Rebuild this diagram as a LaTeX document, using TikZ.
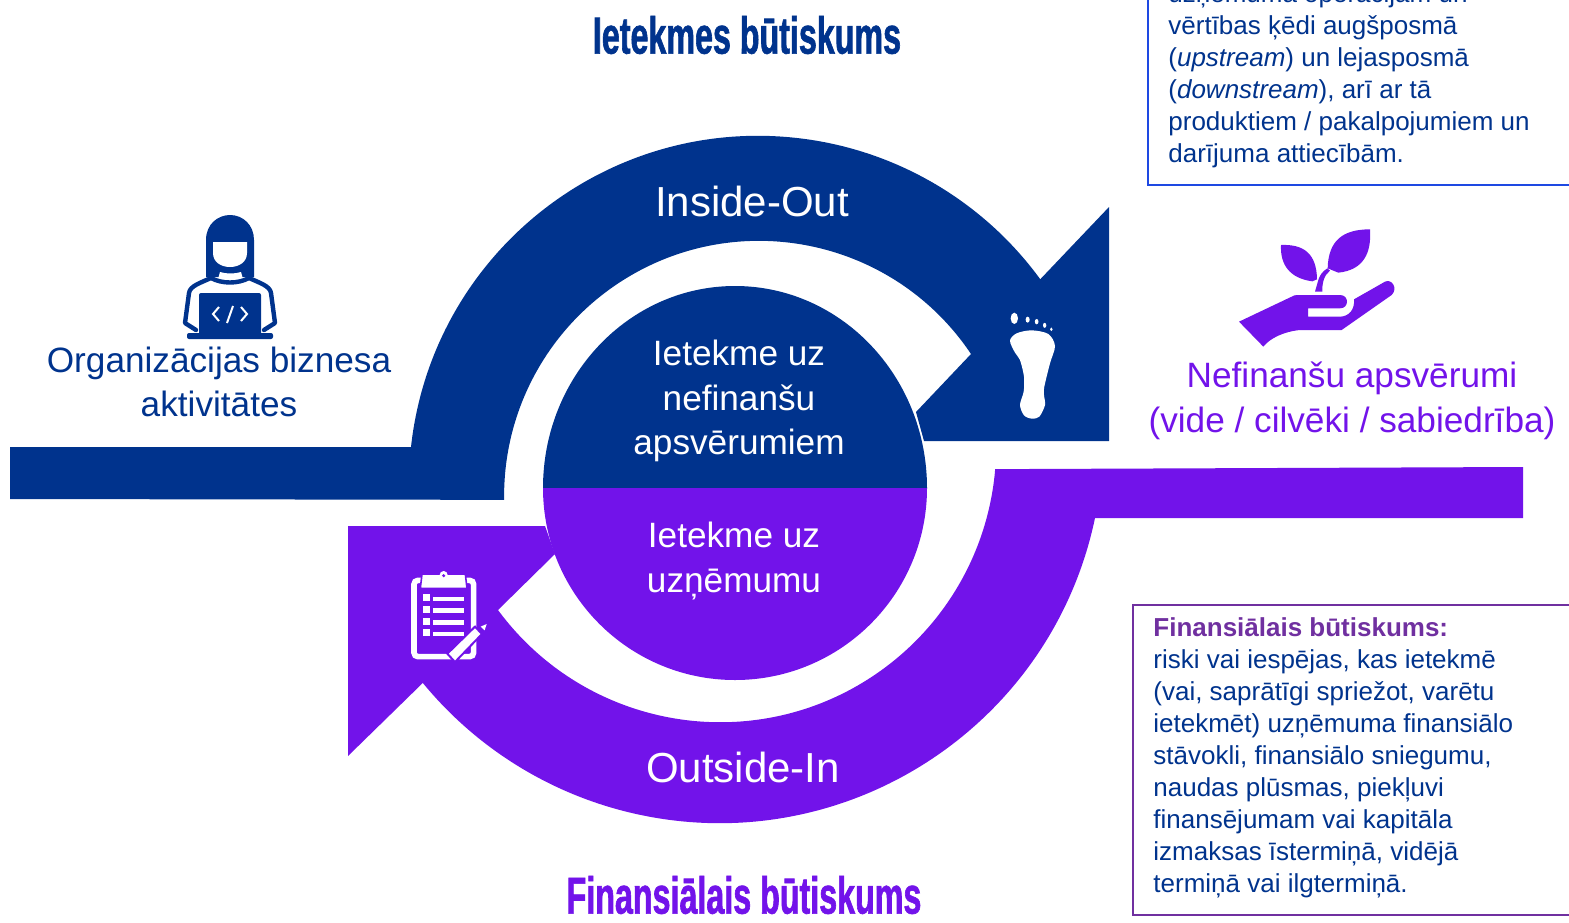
\documentclass[tikz,border=0pt]{standalone}
\usepackage{fontspec}
\setmainfont{Liberation Sans}
\newfontfamily\titlefont[FakeStretch=0.62,FakeBold=1.2]{Liberation Sans Bold}
\definecolor{kblue}{HTML}{00338D}
\definecolor{kpurple}{HTML}{7213EA}
\definecolor{kcobalt}{HTML}{1E49E2}
\definecolor{kplum}{HTML}{7030A0}
\begin{document}
\begin{tikzpicture}[
    x=1pt,y=1pt,xscale=.5,yscale=-.5,
    lead/.style={align=center,font=\fontsize{17.6}{22.4}\selectfont},
    inner/.style={align=center,text=white,font=\fontsize{17.6}{22.4}\selectfont},
    way/.style={text=white,font=\fontsize{21}{25}\selectfont},
    heading/.style={font=\titlefont\fontsize{26}{30}\selectfont},
    boxtext/.style={align=left,anchor=north west,inner sep=0pt,text=kblue,font=\fontsize{13}{16}\selectfont}
]
\useasboundingbox (0,0) rectangle (1569,922);

% Zilā bulta
\fill[kblue] (10,447) -- (411,447) arc[start angle=-173.75,end angle=-36.1,radius=349.2pt]
    -- (1109,207) -- (1109,441) -- (924,441) -- (916,412) -- (971,354)
    arc[start angle=-33.8,end angle=-180.9,radius=255pt] -- (10,499) -- cycle;

% Violetā bulta
\fill[kpurple] (1523,467) -- (1523,518) -- (1095,518) arc[start angle=11.83,end angle=140.6,radius=383.8pt]
    -- (348,756) -- (348,526) -- (545,526) -- (555,554) -- (498,610)
    arc[start angle=143.6,end angle=4.76,radius=276pt] -- cycle;

% Aplis
\fill[kblue] (543,488) arc[start angle=180,end angle=360,x radius=192pt,y radius=202pt] -- cycle;
\fill[kpurple] (543,488) arc[start angle=180,end angle=0,radius=192pt] -- cycle;

% Virsraksti
\node[heading,text=kblue] (titleA) at (747,35) {Ietekmes būtiskums};
\node[heading,text=kpurple] (titleB) at (744,895) {Finansiālais būtiskums};

% Teksti
\node[way] (inout) at (752,201) {Inside-Out};
\node[way] (outin) at (743,767) {Outside-In};
\node[inner] (impactA) at (739,401) {Ietekme uz\\nefinanšu\\apsvērumiem};
\node[inner] (impactB) at (734,561) {Ietekme uz\\uzņēmumu};
\node[lead,text=kblue] (biz) at (219,382) {Organizācijas biznesa\\aktivitātes};
\node[lead,text=kpurple] (nonfin) at (1352,401) {Nefinanšu apsvērumi\\(vide / cilvēki / sabiedrība)};

% Rāmji
\draw[kcobalt,line width=1pt] (1148,-10) -- (1148,185) -- (1580,185);
\draw[kplum,line width=1pt] (1580,605) -- (1133,605) -- (1133,915) -- (1580,915);
\node[boxtext] (boxA) at (1168,-17) {uzņēmuma operācijām un\\vērtības ķēdi augšposmā\\(\textit{upstream}) un lejasposmā\\(\textit{downstream}), arī ar tā\\produktiem / pakalpojumiem un\\darījuma attiecībām.};
\node[boxtext] (boxB) at (1153,617) {\textcolor{kplum}{\textbf{Finansiālais būtiskums:}}\\riski vai iespējas, kas ietekmē\\(vai, saprātīgi spriežot, varētu\\ietekmēt) uzņēmuma finansiālo\\stāvokli, finansiālo sniegumu,\\naudas plūsmas, piekļuvi\\finansējumam vai kapitāla\\izmaksas īstermiņā, vidējā\\termiņā vai ilgtermiņā.};

% Cilvēks
\fill[kblue] (206,277) -- (206,240) .. controls (206,224) and (218,215) .. (230,215)
    .. controls (243,215) and (254,225) .. (254,240) -- (254,277) -- cycle;
\fill[white] (213,242) -- (247,242) -- (247,253) .. controls (247,262) and (239,267) .. (230,267)
    .. controls (221,267) and (213,262) .. (213,253) -- cycle;
\fill[white] (220,272) .. controls (226,274) and (235,274) .. (241,272) -- (243,279) -- (218,279) -- cycle;
\draw[kblue,line width=2.2pt,line join=round,line cap=round] (196,330) -- (185,323) -- (189,293)
    .. controls (190,286) and (200,283) .. (211,278) .. controls (222,284) and (238,284) .. (249,278)
    .. controls (260,283) and (270,286) .. (271,293) -- (275,323) -- (264,330);
\fill[kblue,rounded corners=1pt] (199,293) rectangle (261,336);
\fill[kblue,rounded corners=1pt] (187,333) rectangle (273,339);
\draw[white,line width=1pt] (219,307) -- (213,314) -- (219,321) (233,306) -- (227,323) (241,307) -- (247,314) -- (241,321);

% Pēda
\begin{scope}[shift={(900,190)},scale=1/3]
\fill[white] (343,385) ellipse[x radius=11pt,y radius=17pt];
\fill[white] (383,389) ellipse[x radius=6pt,y radius=9pt];
\fill[white] (410,395) ellipse[x radius=5.5pt,y radius=8pt];
\fill[white] (434,406) ellipse[x radius=5pt,y radius=7.5pt];
\fill[white] (454,418) ellipse[x radius=4pt,y radius=5.5pt];
\fill[white] plot[smooth cycle] coordinates {(330,452) (350,430) (395,421) (445,432) (465,468) (450,520)
    (433,590) (432,615) (435,645) (418,680) (395,686) (372,676) (360,645) (371,605) (372,560) (360,510) (345,488)};
\end{scope}

% Augs
\begin{scope}[shift={(1220,220)},scale=1/3]
\fill[kpurple] (183,75) .. controls (250,72) and (290,100) .. (291,178) -- (277,184)
    .. controls (210,175) and (180,135) .. (183,75) -- cycle;
\fill[kpurple] (450,28) .. controls (370,28) and (325,60) .. (323,145) -- (355,158)
    .. controls (430,150) and (455,100) .. (450,28) -- cycle;
\fill[kpurple] (285,215) -- (307,215) .. controls (306,190) and (312,165) .. (330,152) -- (322,145)
    .. controls (305,155) and (298,170) .. (295,180) -- cycle;
\fill[kpurple] (57,305) -- (215,230) .. controls (220,227) and (225,225) .. (232,225) -- (360,225)
    .. controls (388,225) and (388,265) .. (360,265) -- (264,265) -- (264,290) -- (360,290)
    .. controls (385,290) and (405,270) .. (402,238) -- (495,185) .. controls (515,175) and (535,205) .. (515,225)
    -- (365,330) -- (240,330) .. controls (190,335) and (150,355) .. (130,380) -- cycle;
\end{scope}

% Saraksts
\begin{scope}[shift={(340,510)},scale=1/3]
\draw[white,line width=2.8pt,rounded corners=2pt] (222,211) rectangle (401,440);
\fill[white,draw=kpurple,line width=.8pt] (246,192) -- (376,192) -- (381,235) -- (241,235) -- cycle;
\fill[white] (311,195) circle[radius=12pt];
\fill[kpurple] (311,197) circle[radius=5pt];
\foreach \rowy in {253,288,323,358} {
    \fill[white] (250,\rowy) rectangle ++(21,21);
    \fill[white] (278,\rowy+7) rectangle ++(94,14);
}
\fill[white,draw=kpurple,line width=1pt] (322,431) -- (405,350) -- (426,372) -- (345,456) -- cycle;
\fill[white] (422,350) -- (440,342) -- (434,361) -- cycle;
\end{scope}

\end{tikzpicture}
\end{document}
